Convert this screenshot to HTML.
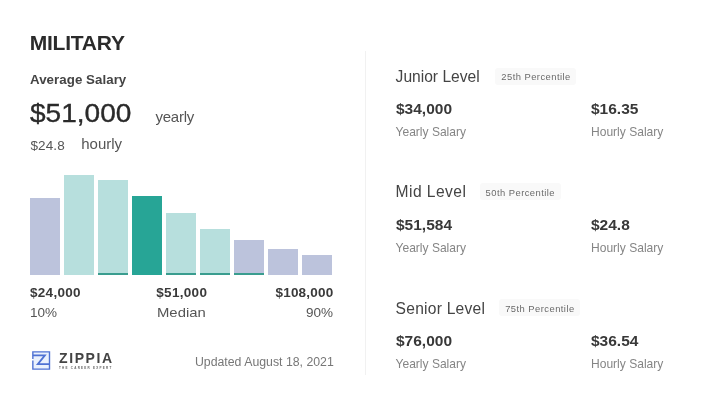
<!DOCTYPE html>
<html><head><meta charset="utf-8"><style>
html,body{margin:0;padding:0;background:#fff;}
body{width:720px;height:404px;position:relative;overflow:hidden;font-family:"Liberation Sans",sans-serif;}
.t{position:absolute;white-space:nowrap;}
#w{position:absolute;left:0;top:0;width:720px;height:404px;background:#fff;filter:blur(0.35px);}
.bar{position:absolute;width:30px;}
.badge{position:absolute;background:#f9f9f9;border-radius:3px;}
.div{position:absolute;left:365px;top:51px;width:1px;height:324px;background:#f1f1f1;}
</style></head><body><div id="w">
<div class="div"></div>
<div class="bar" style="left:30px;top:198px;height:77px;background:#bcc3dc;"></div>
<div class="bar" style="left:64px;top:175px;height:100px;background:#b7dfdd;"></div>
<div class="bar" style="left:98px;top:180px;height:95px;background:#b7dfdd;"></div>
<div class="bar" style="left:98px;top:273px;height:2px;background:#3a9d8f;"></div>
<div class="bar" style="left:132px;top:195.6px;height:79.4px;background:#27a596;"></div>
<div class="bar" style="left:166px;top:213px;height:62px;background:#b7dfdd;"></div>
<div class="bar" style="left:166px;top:273px;height:2px;background:#3a9d8f;"></div>
<div class="bar" style="left:200px;top:228.75px;height:46.25px;background:#b7dfdd;"></div>
<div class="bar" style="left:200px;top:273px;height:2px;background:#3a9d8f;"></div>
<div class="bar" style="left:234px;top:240px;height:35px;background:#bcc3dc;"></div>
<div class="bar" style="left:234px;top:273px;height:2px;background:#3a9d8f;"></div>
<div class="bar" style="left:268px;top:249px;height:26px;background:#bcc3dc;"></div>
<div class="bar" style="left:302px;top:255px;height:20px;background:#bcc3dc;"></div>
<svg class="logo" width="22" height="23" viewBox="0 0 22 23" style="position:absolute;left:30px;top:349px;">
<rect x="2.85" y="2.85" width="16.65" height="17.25" fill="#eaf1fd"/>
<path d="M2.85 10 V2.85 H19.5 V20.1 H2.85 V11.5" fill="none" stroke="#4f72d3" stroke-width="1.4"/>
<path d="M2.85 6.3 H14.9 L7.8 15.2 H19.5" fill="none" stroke="#4f72d3" stroke-width="1.8"/>
</svg>
<div class="t" style="left:29.7px;top:32.22px;font-size:21px;line-height:21px;color:#2b2b2b;font-weight:700;letter-spacing:-0.22px;">MILITARY</div>
<div class="t" style="left:30px;top:72.94px;font-size:13.3px;line-height:13.3px;color:#444;font-weight:700;letter-spacing:0.05px;">Average Salary</div>
<div class="t" style="left:30px;top:101.01px;font-size:25.5px;line-height:25.5px;color:#2a2a2a;font-weight:400;letter-spacing:0px;-webkit-text-stroke:0.35px #2a2a2a;transform:scaleX(1.1);transform-origin:left center;">$51,000</div>
<div class="t" style="left:155.5px;top:109.00px;font-size:15px;line-height:15px;color:#555;font-weight:400;letter-spacing:-0.25px;">yearly</div>
<div class="t" style="left:30.5px;top:138.77px;font-size:13.5px;line-height:13.5px;color:#555;font-weight:400;letter-spacing:0.1px;">$24.8</div>
<div class="t" style="left:81.25px;top:136.05px;font-size:15px;line-height:15px;color:#555;font-weight:400;letter-spacing:0px;">hourly</div>
<div class="t" style="left:30px;top:285.87px;font-size:13.5px;line-height:13.5px;color:#3a3a3a;font-weight:700;letter-spacing:0.3px;">$24,000</div>
<div class="t" style="left:30px;top:306.07px;font-size:13.5px;line-height:13.5px;color:#555;font-weight:400;letter-spacing:0px;">10%</div>
<div class="t" style="left:156.3px;top:285.87px;font-size:13.5px;line-height:13.5px;color:#3a3a3a;font-weight:700;letter-spacing:0.3px;">$51,000</div>
<div class="t" style="left:156.7px;top:305.87px;font-size:13.5px;line-height:13.5px;color:#555;font-weight:400;letter-spacing:0px;transform:scaleX(1.1);transform-origin:left center;">Median</div>
<div class="t" style="right:386.6px;text-align:right;top:285.87px;font-size:13.5px;line-height:13.5px;color:#3a3a3a;font-weight:700;letter-spacing:0.2px;">$108,000</div>
<div class="t" style="right:387px;text-align:right;top:305.87px;font-size:13.5px;line-height:13.5px;color:#555;font-weight:400;letter-spacing:0px;">90%</div>
<div class="t" style="left:59px;top:351.35px;font-size:14px;line-height:14px;color:#444;font-weight:700;letter-spacing:1.6px;">ZIPPIA</div>
<div class="t" style="left:59px;top:366.66px;font-size:3px;line-height:3px;color:#666;font-weight:700;letter-spacing:1.25px;">THE CAREER EXPERT</div>
<div class="t" style="right:386.25px;text-align:right;top:355.89px;font-size:12.3px;line-height:12.3px;color:#777;font-weight:400;letter-spacing:0px;">Updated August 18, 2021</div>
<div class="t" style="left:395.6px;top:69.19px;font-size:15.6px;line-height:15.6px;color:#444;font-weight:400;letter-spacing:0px;">Junior Level</div>
<div class="badge" style="left:495.3px;top:67.90px;width:81px;height:17px;"></div>
<div class="t" style="left:501.3px;top:72.44px;font-size:9.4px;line-height:9.4px;color:#6a6a6a;font-weight:400;letter-spacing:0.46px;">25th Percentile</div>
<div class="t" style="left:396px;top:101.48px;font-size:15.5px;line-height:15.5px;color:#383838;font-weight:700;letter-spacing:0px;">$34,000</div>
<div class="t" style="left:395.5px;top:126.20px;font-size:12.05px;line-height:12.05px;color:#858585;font-weight:400;letter-spacing:0px;">Yearly Salary</div>
<div class="t" style="left:591px;top:101.48px;font-size:15.5px;line-height:15.5px;color:#383838;font-weight:700;letter-spacing:0px;">$16.35</div>
<div class="t" style="left:591px;top:126.20px;font-size:12.05px;line-height:12.05px;color:#858585;font-weight:400;letter-spacing:0px;">Hourly Salary</div>
<div class="t" style="left:395.6px;top:184.49px;font-size:15.6px;line-height:15.6px;color:#444;font-weight:400;letter-spacing:0.45px;">Mid Level</div>
<div class="badge" style="left:479.6px;top:183.20px;width:81px;height:17px;"></div>
<div class="t" style="left:485.6px;top:187.74px;font-size:9.4px;line-height:9.4px;color:#6a6a6a;font-weight:400;letter-spacing:0.46px;">50th Percentile</div>
<div class="t" style="left:396px;top:216.78px;font-size:15.5px;line-height:15.5px;color:#383838;font-weight:700;letter-spacing:0px;">$51,584</div>
<div class="t" style="left:395.5px;top:241.50px;font-size:12.05px;line-height:12.05px;color:#858585;font-weight:400;letter-spacing:0px;">Yearly Salary</div>
<div class="t" style="left:591px;top:216.78px;font-size:15.5px;line-height:15.5px;color:#383838;font-weight:700;letter-spacing:0px;">$24.8</div>
<div class="t" style="left:591px;top:241.50px;font-size:12.05px;line-height:12.05px;color:#858585;font-weight:400;letter-spacing:0px;">Hourly Salary</div>
<div class="t" style="left:395.6px;top:300.59px;font-size:15.6px;line-height:15.6px;color:#444;font-weight:400;letter-spacing:0.24px;">Senior Level</div>
<div class="badge" style="left:499.2px;top:299.30px;width:81px;height:17px;"></div>
<div class="t" style="left:505.2px;top:303.84px;font-size:9.4px;line-height:9.4px;color:#6a6a6a;font-weight:400;letter-spacing:0.46px;">75th Percentile</div>
<div class="t" style="left:396px;top:332.88px;font-size:15.5px;line-height:15.5px;color:#383838;font-weight:700;letter-spacing:0px;">$76,000</div>
<div class="t" style="left:395.5px;top:357.60px;font-size:12.05px;line-height:12.05px;color:#858585;font-weight:400;letter-spacing:0px;">Yearly Salary</div>
<div class="t" style="left:591px;top:332.88px;font-size:15.5px;line-height:15.5px;color:#383838;font-weight:700;letter-spacing:0px;">$36.54</div>
<div class="t" style="left:591px;top:357.60px;font-size:12.05px;line-height:12.05px;color:#858585;font-weight:400;letter-spacing:0px;">Hourly Salary</div>
</div></body></html>
